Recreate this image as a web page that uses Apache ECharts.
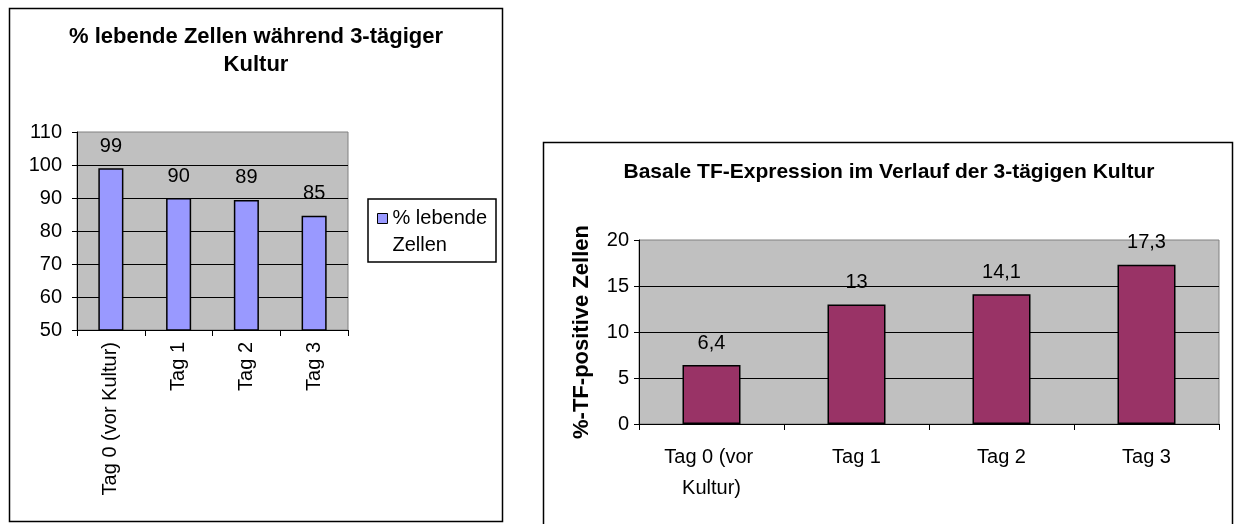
<!DOCTYPE html>
<html>
<head>
<meta charset="utf-8">
<script src="https://cdn.jsdelivr.net/npm/echarts@6/dist/echarts.min.js"></script>
<style>
html,body{margin:0;padding:0;background:#fff;}
#chart{width:1234px;height:524px;}
</style>
</head>
<body>
<div id="chart"></div>
<script>
// ---- Data ----
const leftTitle = '% lebende Zellen während 3-tägiger\nKultur';
const leftCategories = ['Tag 0 (vor Kultur)', 'Tag 1', 'Tag 2', 'Tag 3'];
const leftSeriesName = '% lebende Zellen';
const leftValues = [99, 90, 89.4, 84.6];
const leftYTicks = { min: 50, max: 110, interval: 10 };

const rightTitle = 'Basale TF-Expression im Verlauf der 3-tägigen Kultur';
const rightCategories = ['Tag 0 (vor Kultur)', 'Tag 1', 'Tag 2', 'Tag 3'];
const rightSeriesName = '%-TF-positive Zellen';
const rightAxisName = '%-TF-positive Zellen';
const rightValues = [6.4, 13, 14.1, 17.3];
const rightYTicks = { min: 0, max: 20, interval: 5 };

// ---- Chart ----
const FONT = '"Liberation Sans", Arial, sans-serif';
const chart = echarts.init(document.getElementById('chart'));

const axisLineBlack = { show: true, lineStyle: { color: '#000', width: 1 } };

chart.setOption({
  backgroundColor: '#fff',
  animation: false,
  textStyle: { fontFamily: FONT, color: '#000' },
  title: [
    {
      text: leftTitle,
      left: 256, top: 23, textAlign: 'center', padding: 0,
      textStyle: { fontFamily: FONT, fontWeight: 'bold', fontSize: 22, lineHeight: 28, color: '#000' }
    },
    {
      text: rightTitle,
      left: 889, top: 160, textAlign: 'center', padding: 0,
      textStyle: { fontFamily: FONT, fontWeight: 'bold', fontSize: 21, lineHeight: 24, color: '#000' }
    }
  ],
  legend: {
    data: [leftSeriesName],
    left: 377, top: 205,
    padding: 0,
    itemWidth: 10, itemHeight: 37,
    icon: 'path://M0 0H10V10H0Z M0 37',
    itemStyle: { borderColor: '#000', borderWidth: 1 },
    formatter: function (name) { return name.replace(' Zellen', '\nZellen'); },
    textStyle: { fontFamily: FONT, fontSize: 20, lineHeight: 27, color: '#000' },
    selectedMode: false
  },
  graphic: [
    { type: 'rect', shape: { x: 9.5, y: 8.5, width: 493, height: 513 }, style: { fill: 'none', stroke: '#000', lineWidth: 1.5 }, z: 100 },
    { type: 'rect', shape: { x: 543.5, y: 142.5, width: 689, height: 420 }, style: { fill: 'none', stroke: '#000', lineWidth: 1.5 }, z: 100 },
    { type: 'rect', shape: { x: 368, y: 199, width: 128, height: 63 }, style: { fill: 'none', stroke: '#000', lineWidth: 1.5 }, z: 100 }
  ],
  grid: [
    { left: 77, top: 132, width: 271, height: 198, show: true, backgroundColor: '#C0C0C0', borderColor: '#808080', borderWidth: 1, containLabel: false },
    { left: 639, top: 240, width: 580, height: 184, show: true, backgroundColor: '#C0C0C0', borderColor: '#808080', borderWidth: 1, containLabel: false }
  ],
  xAxis: [
    {
      gridIndex: 0, type: 'category', data: leftCategories,
      axisLine: axisLineBlack,
      axisTick: { show: true, length: 6, lineStyle: { color: '#000' } },
      axisLabel: { rotate: 90, margin: 12, fontSize: 20, color: '#000', fontFamily: FONT, interval: 0 },
      splitLine: { show: false }
    },
    {
      gridIndex: 1, type: 'category', data: rightCategories,
      axisLine: axisLineBlack,
      axisTick: { show: true, length: 6, lineStyle: { color: '#000' } },
      axisLabel: { margin: 18, fontSize: 20, lineHeight: 31, color: '#000', fontFamily: FONT, interval: 0, width: 110, overflow: 'break' },
      splitLine: { show: false }
    }
  ],
  yAxis: [
    {
      gridIndex: 0, type: 'value', min: leftYTicks.min, max: leftYTicks.max, interval: leftYTicks.interval,
      axisLine: axisLineBlack,
      axisTick: { show: true, length: 5, lineStyle: { color: '#000' } },
      axisLabel: { margin: 15, fontSize: 20, color: '#000', fontFamily: FONT },
      splitLine: { show: true, showMinLine: false, showMaxLine: false, lineStyle: { color: '#000', width: 1 } }
    },
    {
      gridIndex: 1, type: 'value', min: rightYTicks.min, max: rightYTicks.max, interval: rightYTicks.interval,
      name: rightAxisName, nameLocation: 'middle', nameRotate: 90, nameGap: 46,
      nameTextStyle: { fontFamily: FONT, fontWeight: 'bold', fontSize: 22, color: '#000' },
      axisLine: axisLineBlack,
      axisTick: { show: true, length: 5, lineStyle: { color: '#000' } },
      axisLabel: { margin: 10, fontSize: 20, color: '#000', fontFamily: FONT },
      splitLine: { show: true, showMinLine: false, showMaxLine: false, lineStyle: { color: '#000', width: 1 } }
    }
  ],
  series: [
    {
      name: leftSeriesName, type: 'bar', xAxisIndex: 0, yAxisIndex: 0,
      data: leftValues, barWidth: '37%',
      itemStyle: { color: '#9999FF', borderColor: '#000', borderWidth: 1.5 },
      label: { show: true, position: 'top', distance: 12, fontSize: 20, color: '#000', fontFamily: FONT,
        formatter: function (p) { return String(Math.round(p.value)); } }
    },
    {
      name: rightSeriesName, type: 'bar', xAxisIndex: 1, yAxisIndex: 1,
      data: rightValues, barWidth: '40%',
      itemStyle: { color: '#993366', borderColor: '#000', borderWidth: 1.5 },
      label: { show: true, position: 'top', distance: 12, fontSize: 20, color: '#000', fontFamily: FONT,
        formatter: function (p) { return String(p.value).replace('.', ','); } }
    }
  ]
});
</script>
</body>
</html>
